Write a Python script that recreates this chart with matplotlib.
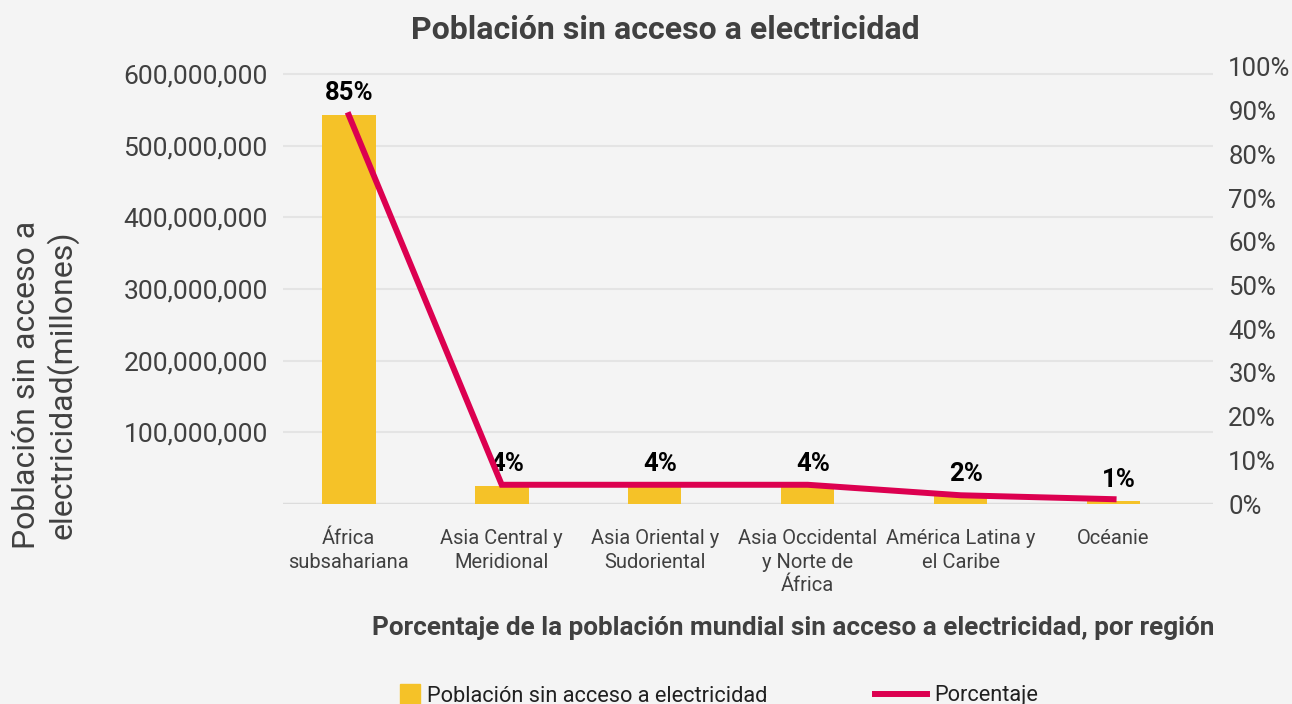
import numpy as np
import matplotlib.pyplot as plt
from matplotlib.lines import Line2D
from matplotlib.ticker import FuncFormatter, PercentFormatter

plt.rcParams['font.family'] = ['Roboto', 'DejaVu Sans']

# data
regiones = ['África\nsubsahariana', 'Asia Central y\nMeridional', 'Asia Oriental y\nSudoriental',
            'Asia Occidental\ny Norte de\nÁfrica', 'América Latina y\nel Caribe', 'Océanie']
poblacion = [543e6, 25e6, 25e6, 25e6, 12e6, 3.5e6]
porcentaje = [0.89, 0.044, 0.044, 0.044, 0.02, 0.011]
etiquetas = ['85%', '4%', '4%', '4%', '2%', '1%']

bg = '#f4f4f4'
amarillo = '#f5c228'
rojo = '#dc0050'
gris = '#404040'

fig = plt.figure(figsize=(12.92, 7.04), dpi=100, facecolor=bg)
ax = fig.add_axes([283 / 1292, 1 - 504 / 704, 930 / 1292, 437 / 704])
ax.set_facecolor(bg)
x = np.arange(len(regiones))

ax.bar(x, poblacion, width=0.35, color=amarillo, zorder=2)
ax.set_ylim(0, 610e6)
ax.set_xlim(-0.43, len(regiones) - 0.35)
ax.set_yticks(np.arange(1e8, 6.01e8, 1e8))
ax.yaxis.set_major_formatter(FuncFormatter(lambda v, p: f'{v:,.0f}'))
ax.grid(axis='y', color='#e4e4e4', lw=1.5, zorder=0)
ax.axhline(0, color='#dcdcdc', lw=2.5, zorder=1)
ax.set_xticks(x)
ax.set_xticklabels(regiones, fontsize=14.5, color=gris, linespacing=1.3)
ax.tick_params(axis='x', length=0, pad=18)
ax.tick_params(axis='y', length=0, pad=11, labelsize=19, labelcolor=gris)
for s in ax.spines.values():
    s.set_visible(False)

ax2 = ax.twinx()
ax2.plot(x, porcentaje, color=rojo, lw=4.3, solid_joinstyle='miter', zorder=3)
ax2.set_ylim(0, 1.0)
ax2.set_yticks(np.arange(0, 1.01, 0.1))
ax2.yaxis.set_major_formatter(PercentFormatter(1.0, decimals=0))
ax2.tick_params(axis='y', length=0, pad=11, labelsize=18.5, labelcolor=gris)
for s in ax2.spines.values():
    s.set_visible(False)

for xi, v, t in zip(x, poblacion, etiquetas):
    ax.annotate(t, (xi, v), xytext=(4 if xi else 0, 7), textcoords='offset points',
                ha='center', va='bottom', fontsize=18.5, fontweight='bold', color='black', zorder=4)

fig.text(665 / 1292, 1 - 30 / 704, 'Población sin acceso a electricidad', ha='center', va='center',
         fontsize=23, fontweight='bold', color=gris)
fig.text(45 / 1292, 1 - 385 / 704, 'Población sin acceso a\nelectricidad(millones)', rotation=90,
         ha='center', va='center', multialignment='center', fontsize=23, color=gris, linespacing=1.18)
fig.text(793 / 1292, 1 - 628 / 704,
         'Porcentaje de la población mundial sin acceso a electricidad, por región',
         ha='center', va='center', fontsize=18.8, fontweight='bold', color=gris)

leg_y = 1 - 696 / 704
fig.legend([Line2D([], [], marker='s', color=amarillo, ls='none', markersize=15)],
           ['Población sin acceso a electricidad'], loc='center left',
           bbox_to_anchor=(388 / 1292, leg_y), frameon=False, fontsize=15.7, borderpad=0,
           handlelength=1.0, handletextpad=0.3, labelcolor='#202020')
fig.legend([Line2D([], [], color=rojo, lw=4.3)], ['Porcentaje'], loc='center left',
           bbox_to_anchor=(864 / 1292, leg_y), frameon=False, fontsize=15.7, borderpad=0,
           handlelength=2.4, handletextpad=0.3, labelcolor='#202020')

fig.savefig('out.png', dpi=100, facecolor=bg)
